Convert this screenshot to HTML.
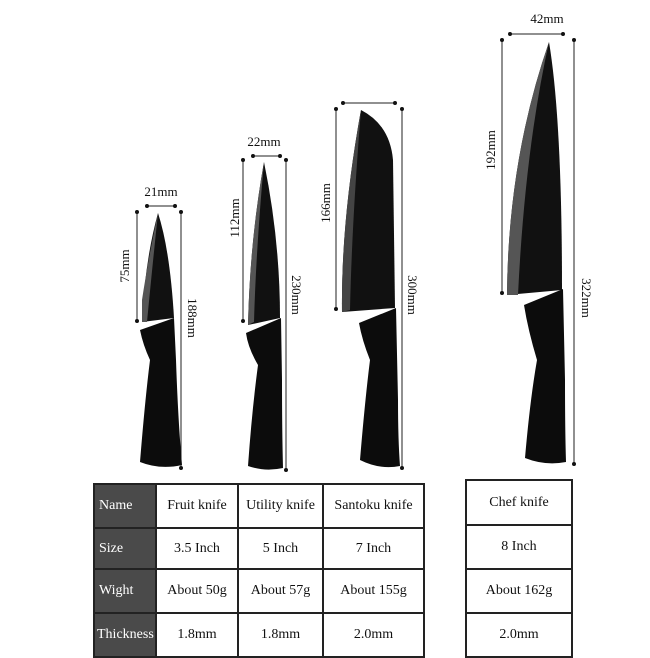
<!DOCTYPE html>
<html><head><style>
body{margin:0;background:#fff;width:650px;height:650px;overflow:hidden;position:relative;font-family:"Liberation Serif",serif}
table{position:absolute;border-collapse:collapse;font-size:14px;color:#111}
td{border:2px solid #222;text-align:center;padding:0}
td.h{background:#4a4a4a;color:#fff;text-align:left;padding-left:4px}
</style></head><body>
<svg width="650" height="480" style="position:absolute;left:0;top:0" font-family="Liberation Serif" font-size="13" fill="#111">
<g stroke="#222" stroke-width="1">
<line x1="147" y1="206" x2="175" y2="206"/><line x1="137" y1="212" x2="137" y2="321"/><line x1="181" y1="212" x2="181" y2="468"/>
<line x1="253" y1="156" x2="280" y2="156"/><line x1="243" y1="160" x2="243" y2="321"/><line x1="286" y1="160" x2="286" y2="470"/>
<line x1="343" y1="103" x2="395" y2="103"/><line x1="336" y1="109" x2="336" y2="309"/><line x1="402" y1="109" x2="402" y2="468"/>
<line x1="510" y1="34" x2="563" y2="34"/><line x1="502" y1="40" x2="502" y2="293"/><line x1="574" y1="40" x2="574" y2="464"/>
</g>
<g fill="#111">
<circle cx="147" cy="206" r="2"/><circle cx="175" cy="206" r="2"/><circle cx="137" cy="212" r="2"/><circle cx="137" cy="321" r="2"/><circle cx="181" cy="212" r="2"/><circle cx="181" cy="468" r="2"/>
<circle cx="253" cy="156" r="2"/><circle cx="280" cy="156" r="2"/><circle cx="243" cy="160" r="2"/><circle cx="243" cy="321" r="2"/><circle cx="286" cy="160" r="2"/><circle cx="286" cy="470" r="2"/>
<circle cx="343" cy="103" r="2"/><circle cx="395" cy="103" r="2"/><circle cx="336" cy="109" r="2"/><circle cx="336" cy="309" r="2"/><circle cx="402" cy="109" r="2"/><circle cx="402" cy="468" r="2"/>
<circle cx="510" cy="34" r="2"/><circle cx="563" cy="34" r="2"/><circle cx="502" cy="40" r="2"/><circle cx="502" cy="293" r="2"/><circle cx="574" cy="40" r="2"/><circle cx="574" cy="464" r="2"/>
</g>
<text x="161" y="196" text-anchor="middle">21mm</text>
<text x="264" y="146" text-anchor="middle">22mm</text>
<text x="547" y="23" text-anchor="middle">42mm</text>
<text transform="translate(129,266) rotate(-90)" text-anchor="middle">75mm</text>
<text transform="translate(188,318) rotate(90)" text-anchor="middle">188mm</text>
<text transform="translate(239,218) rotate(-90)" text-anchor="middle">112mm</text>
<text transform="translate(292,295) rotate(90)" text-anchor="middle">230mm</text>
<text transform="translate(330,203) rotate(-90)" text-anchor="middle">166mm</text>
<text transform="translate(408,295) rotate(90)" text-anchor="middle">300mm</text>
<text transform="translate(495,150) rotate(-90)" text-anchor="middle">192mm</text>
<text transform="translate(582,298) rotate(90)" text-anchor="middle">322mm</text>
<path d="M158,213 Q170,250 174,318 L142,322 Q145,260 158,213Z" fill="#111"/>
<path d="M142,322 L142,300 Q148,260 158,213 Q152,270 147,322Z" fill="#555"/>
<path d="M140,330 L174,318 L176,360 Q178,420 182,465 Q160,470 140,462 Q145,400 150,360 Q143,345 140,330Z" fill="#0c0c0c"/>
<path d="M264,162 Q280,240 280,318 L248,325 Q250,240 264,162Z" fill="#111"/>
<path d="M248,325 Q250,240 264,162 Q256,250 254,322Z" fill="#555"/>
<path d="M246,333 L281,318 L282,380 Q282,430 283,468 Q265,472 248,466 Q252,410 258,365 Q248,348 246,333Z" fill="#0c0c0c"/>
<path d="M361,110 Q390,125 393,160 L395,308 L342,312 Q341,220 361,110Z" fill="#111"/>
<path d="M342,312 Q341,220 361,110 Q352,220 350,310Z" fill="#444"/>
<path d="M359,323 L396,308 L398,400 Q398,440 400,466 Q380,470 360,460 Q365,400 370,360 Q362,340 359,323Z" fill="#0c0c0c"/>
<path d="M549,42 Q562,120 562,290 L507,295 Q508,160 549,42Z" fill="#111"/>
<path d="M507,295 Q508,160 549,42 Q525,150 518,295Z" fill="#555"/>
<path d="M524,305 L563,289 L565,380 Q565,430 566,462 Q545,466 525,458 Q530,400 537,360 Q528,330 524,305Z" fill="#0c0c0c"/>
</svg>
<table style="left:93px;top:483px;width:332px">
<tr style="height:44px"><td class="h" style="width:56px">Name</td><td style="width:80px">Fruit knife</td><td style="width:83px">Utility knife</td><td>Santoku knife</td></tr>
<tr style="height:41px"><td class="h">Size</td><td>3.5 Inch</td><td>5 Inch</td><td>7 Inch</td></tr>
<tr style="height:44px"><td class="h">Wight</td><td>About 50g</td><td>About 57g</td><td>About 155g</td></tr>
<tr style="height:44px"><td class="h" style="padding-left:2px">Thickness</td><td>1.8mm</td><td>1.8mm</td><td>2.0mm</td></tr>
</table>
<table style="left:465px;top:479px;width:108px">
<tr style="height:45px"><td>Chef knife</td></tr>
<tr style="height:44px"><td>8 Inch</td></tr>
<tr style="height:44px"><td>About 162g</td></tr>
<tr style="height:44px"><td>2.0mm</td></tr>
</table>
</body></html>
